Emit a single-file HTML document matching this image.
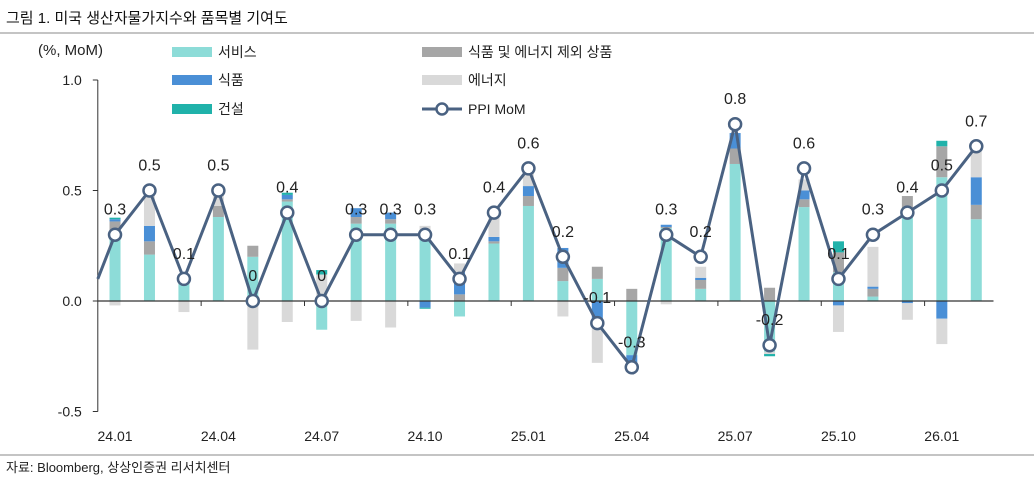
<!DOCTYPE html>
<html><head><meta charset="utf-8"><style>
body{margin:0;background:#fff;width:1034px;height:485px;overflow:hidden;font-family:"Liberation Sans","Noto Sans CJK KR",sans-serif}
svg text{font-family:"Liberation Sans","Noto Sans CJK KR",sans-serif}
</style></head><body>
<svg id="c" width="1034" height="485">
<text x="6" y="23" font-size="15" fill="#111">그림 1. 미국 생산자물가지수와 품목별 기여도</text>
<line x1="0" y1="33" x2="1034" y2="33" stroke="#888" stroke-width="1"/>
<line x1="0" y1="455" x2="1034" y2="455" stroke="#888" stroke-width="1"/>
<text x="6" y="472" font-size="13" fill="#222">자료: Bloomberg, 상상인증권 리서치센터</text>
<text x="38" y="55" font-size="15" fill="#222">(%, MoM)</text>
<g id="legend">
<rect x="172" y="47" width="40" height="10" fill="#8ddcd8"/><text x="218" y="57" font-size="14" fill="#222">서비스</text>
<rect x="172" y="75" width="40" height="10" fill="#4a8fd6"/><text x="218" y="85" font-size="14" fill="#222">식품</text>
<rect x="172" y="104" width="40" height="10" fill="#20b2aa"/><text x="218" y="114" font-size="14" fill="#222">건설</text>
<rect x="422" y="47" width="40" height="10" fill="#a6a6a6"/><text x="468" y="57" font-size="14" fill="#222">식품 및 에너지 제외 상품</text>
<rect x="422" y="75" width="40" height="10" fill="#d9d9d9"/><text x="468" y="85" font-size="14" fill="#222">에너지</text>
<line x1="422" y1="109" x2="462" y2="109" stroke="#4a6282" stroke-width="3"/><circle cx="442" cy="109" r="5.5" fill="#fff" stroke="#4a6282" stroke-width="2.5"/><text x="468" y="114" font-size="14" fill="#222">PPI MoM</text>
</g>
</svg>
<script>
const categories=["24.01","24.02","24.03","24.04","24.05","24.06","24.07","24.08","24.09","24.10","24.11","24.12","25.01","25.02","25.03","25.04","25.05","25.06","25.07","25.08","25.09","25.10","25.11","25.12","26.01","26.02"];
const services=[0.32,0.21,0.09,0.38,0.2,0.45,-0.13,0.35,0.35,0.29,-0.07,0.26,0.43,0.09,0.10,-0.245,0.33,0.055,0.62,-0.23,0.425,0.13,0.02,0.40,0.56,0.37];
const coreGoods=[0.04,0.06,0,0.05,0.05,0.01,0,0.03,0.02,0,0.03,0.01,0.045,0.06,0.055,0.055,0.005,0.04,0.07,0.06,0.035,0.09,0.035,0.075,0.14,0.065];
const food=[0.01,0.07,0,0,0,0.02,0.02,0.04,0.03,-0.03,0.10,0.02,0.045,0.09,-0.10,-0.055,0.01,0.01,0.07,0,0.04,-0.02,0.01,-0.01,-0.08,0.125];
const energy=[-0.02,0.15,-0.05,0.06,-0.22,-0.095,0.10,-0.09,-0.12,0.05,0.04,0.10,0.07,-0.07,-0.18,0,-0.015,0.05,0,-0.01,0.05,-0.12,0.18,-0.075,-0.115,0.12];
const construction=[0.007,0,0,0,0,0.01,0.02,0,0,-0.005,0,0,0,0,0,-0.02,0,0,0,-0.01,0,0.05,0,0,0.025,0];
const ppi=[0.3,0.5,0.1,0.5,0,0.4,0,0.3,0.3,0.3,0.1,0.4,0.6,0.2,-0.1,-0.3,0.3,0.2,0.8,-0.2,0.6,0.1,0.3,0.4,0.5,0.7];
const prevPpi=-0.1;
const yTicks=[1.0,0.5,0.0,-0.5];
const xLabelIdx=[0,3,6,9,12,15,18,21,24];

const NS="http://www.w3.org/2000/svg",svg=document.getElementById('c');
const left=97.8,band=34.45,y0=301,unit=221;
const X=i=>left+band*(i+0.5);
const Y=v=>y0-v*unit;
function mk(t,a,p){const e=document.createElementNS(NS,t);for(const k in a)e.setAttribute(k,a[k]);(p||svg).appendChild(e);return e;}
// axes
let ax=mk('line',{x1:left,y1:Y(1.0),x2:left,y2:Y(-0.5),stroke:'#333','stroke-width':1});


yTicks.forEach(v=>{
 const t=mk('line',{x1:left-5,y1:Y(v),x2:left,y2:Y(v),stroke:'#333'});
 
 
 const l=mk('text',{x:left-16,y:Y(v)+5,'text-anchor':'end','font-size':14,fill:'#222'});
 l.textContent=v.toFixed(1);
 
 
});
const bars=mk('g',{});


const series=[[services,'#8ddcd8','services'],[coreGoods,'#a6a6a6','core-goods'],[food,'#4a8fd6','food'],[energy,'#d9d9d9','energy'],[construction,'#20b2aa','construction']];
categories.forEach((c,i)=>{
 let pos=0,neg=0;
 series.forEach(([arr,col,nm])=>{
  const v=arr[i]; if(!v)return;
  let a,b; if(v>0){a=pos;b=pos+v;pos=b;}else{a=neg;b=neg+v;neg=b;}
  const r=mk('rect',{x:X(i)-5.5,width:11,y:Math.min(Y(a),Y(b)),height:Math.abs(Y(a)-Y(b)),fill:col},bars);
  
  
 });
});
const xa=mk('line',{x1:left,y1:y0,x2:left+band*categories.length,y2:y0,stroke:'#333','stroke-width':1.3});


for(let k=3;k<categories.length;k+=3){
 const t=mk('line',{x1:left+band*k,y1:y0,x2:left+band*k,y2:y0+5,stroke:'#333'});
 
 
}
xLabelIdx.forEach(i=>{
 const l=mk('text',{x:X(i),y:441,'text-anchor':'middle','font-size':14,fill:'#222'});
 l.textContent=categories[i];
 
 
});
// line
let d='M'+left+','+(Y(ppi[0])+(Y(prevPpi)-Y(ppi[0]))*(X(0)-left)/band);
ppi.forEach((v,i)=>d+=' L'+X(i)+','+Y(v));
const pl=mk('path',{d:d,fill:'none',stroke:'#4a6282','stroke-width':3,'stroke-linejoin':'round'});


ppi.forEach((v,i)=>{
 const m=mk('circle',{cx:X(i),cy:Y(v),r:6,fill:'#fff',stroke:'#4a6282','stroke-width':2.5});
 
 
 const l=mk('text',{x:X(i),y:Y(v)-20,'text-anchor':'middle','font-size':16,fill:'#222'});
 l.textContent=v===0?'0':String(v);
 
 
});
</script>
</body></html>
